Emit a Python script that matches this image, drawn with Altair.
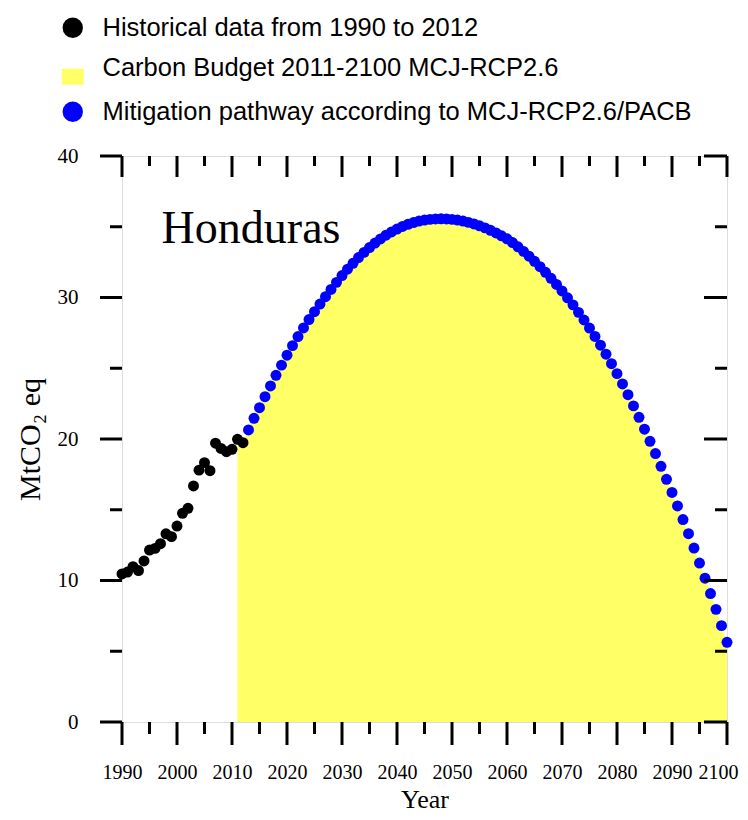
import altair as alt
import pandas as pd

# ---------------- data ----------------
hist_years = list(range(1990, 2013))
hist_values = [10.46, 10.60, 10.98, 10.70, 11.38, 12.15, 12.27, 12.60, 13.30, 13.10,
               13.85, 14.75, 15.10, 16.68, 17.80, 18.33, 17.76, 19.70, 19.33, 19.10,
               19.27, 19.98, 19.74]

path_years = list(range(2013, 2101))
path_values = [20.64, 21.46, 22.21, 22.99, 23.75, 24.50, 25.22, 25.92, 26.60, 27.24,
               27.85, 28.44, 29.00, 29.54, 30.06, 30.57, 31.07, 31.55, 32.00, 32.42,
               32.82, 33.19, 33.53, 33.85, 34.14, 34.40, 34.63, 34.84, 35.02, 35.17,
               35.30, 35.40, 35.47, 35.52, 35.55, 35.56, 35.55, 35.52, 35.47, 35.40,
               35.31, 35.20, 35.07, 34.92, 34.75, 34.56, 34.36, 34.15, 33.88, 33.58,
               33.26, 32.92, 32.56, 32.18, 31.78, 31.36, 30.92, 30.46, 29.98, 29.48,
               28.95, 28.41, 27.84, 27.25, 26.63, 25.99, 25.32, 24.62, 23.89, 23.13,
               22.34, 21.53, 20.69, 19.84, 18.97, 18.07, 17.15, 16.22, 15.27, 14.31,
               13.31, 12.29, 11.23, 10.16, 9.08, 7.96, 6.81, 5.63]

# carbon budget area: 2011-2012 from historical data, then the pathway
budget_years = [2011, 2012] + path_years
budget_values = [19.98, 19.74] + path_values

legend_labels = ["Historical data from 1990 to 2012",
                 "Carbon Budget 2011-2100 MCJ-RCP2.6",
                 "Mitigation pathway according to MCJ-RCP2.6/PACB"]
legend_colors = ["#000000", "#FFFF66", "#0000FF"]
legend_shapes = ["circle", "M-1.08,0.05L1.08,0.05L1.08,1.62L-1.08,1.62Z", "circle"]

x_major = list(range(1990, 2101, 10))
x_minor = list(range(1995, 2100, 10))
y_major = [0, 10, 20, 30, 40]
y_minor = [5, 15, 25, 35]

country = "Honduras"

# ---------------- tables ----------------
hist_df = pd.DataFrame({"year": hist_years, "value": hist_values})
path_df = pd.DataFrame({"year": path_years, "value": path_values})
budget_df = pd.DataFrame({"year": budget_years, "value": budget_values})
legend_df = pd.DataFrame({"series": legend_labels})
xmaj_df = pd.DataFrame({"t": x_major})
xmin_df = pd.DataFrame({"t": x_minor})
ymaj_df = pd.DataFrame({"t": y_major})
ymin_df = pd.DataFrame({"t": y_minor})

SERIF = "Liberation Serif"
SANS = "Liberation Sans"

xscale = alt.Scale(domain=[1990, 2100], nice=False, zero=False)
yscale = alt.Scale(domain=[0, 40], nice=False)

x_axis = alt.Axis(values=x_major, format="d", ticks=False, domain=False, grid=False,
                  labelOverlap=False, labelBound=False, labelFlush=False,
                  labelOffset={"condition": {"test": "datum.value == 2100", "value": -9},
                               "value": 0},
                  labelFont=SERIF, labelFontSize=20, labelColor="black", labelPadding=40,
                  title="Year", titleFont=SERIF, titleFontSize=26, titleFontWeight="normal",
                  titleColor="black", titleY=85, titleBaseline="alphabetic")
y_axis = alt.Axis(values=y_major, format="d", ticks=False, domain=False, grid=False,
                  labelOverlap=False, labelBound=False, labelFlush=False,
                  labelFont=SERIF, labelFontSize=21, labelColor="black", labelPadding=44,
                  title="MtCO₂ eq", titleFont=SERIF, titleFontSize=30, titleFontWeight="normal",
                  titleColor="black", titlePadding=12)

area = alt.Chart(budget_df).mark_area(color="#FFFF66").encode(
    x=alt.X("year:Q", scale=xscale, axis=x_axis),
    y=alt.Y("value:Q", scale=yscale, axis=y_axis),
)

blue = alt.Chart(path_df).mark_circle(color="#0000FF", size=120, opacity=1).encode(
    x=alt.X("year:Q", scale=xscale),
    y=alt.Y("value:Q", scale=yscale),
)

black = alt.Chart(hist_df).mark_circle(color="#000000", size=120, opacity=1).encode(
    x=alt.X("year:Q", scale=xscale),
    y=alt.Y("value:Q", scale=yscale),
)

leg = alt.Legend(title=None, orient="none", legendX=-62, legendY=-141,
                 labelFont=SANS, labelFontSize=25.5, labelColor="black", labelLimit=900,
                 labelOffset=17, rowPadding=13.5, symbolSize=415, padding=0,
                 symbolStrokeWidth=0)
legend_layer = alt.Chart(legend_df).mark_point(filled=True, opacity=1).encode(
    color=alt.Color("series:N", scale=alt.Scale(domain=legend_labels, range=legend_colors),
                    legend=leg, sort=legend_labels),
    shape=alt.Shape("series:N", scale=alt.Scale(domain=legend_labels, range=legend_shapes),
                    legend=leg, sort=legend_labels),
).transform_filter("false")

label = alt.Chart(pd.DataFrame({"name": [country]})).mark_text(
    font=SERIF, fontSize=46, align="left", baseline="alphabetic", color="black"
).encode(x=alt.datum(1997.2), y=alt.datum(33.85), text="name:N")

def ticks_x(df, ypos, size, offset):
    return alt.Chart(df).mark_tick(orient="vertical", size=size, thickness=3,
                                   color="black", yOffset=offset, opacity=1).encode(
        x=alt.X("t:Q", scale=xscale), y=alt.datum(ypos))

def ticks_y(df, xpos, size, offset):
    return alt.Chart(df).mark_tick(orient="horizontal", size=size, thickness=3,
                                   color="black", xOffset=offset, opacity=1).encode(
        y=alt.Y("t:Q", scale=yscale), x=alt.datum(xpos))

tick_layers = [
    ticks_x(xmaj_df, 0, 23, 11.5), ticks_x(xmin_df, 0, 12, 6),        # bottom, outward
    ticks_x(xmaj_df, 40, 21, 10.5), ticks_x(xmin_df, 40, 10, 5),      # top, inward
    ticks_y(ymaj_df, 1990, 22, -11), ticks_y(ymin_df, 1990, 12, -6),  # left, outward
    ticks_y(ymaj_df, 2100, 23, -11.5), ticks_y(ymin_df, 2100, 12, -6),  # right, inward
]

chart = alt.layer(area, blue, black, label, legend_layer, *tick_layers).properties(
    width=605, height=566,
    autosize=alt.AutoSizeParams(type="none"),
    padding={"left": 114, "top": 148, "right": 13, "bottom": 90},
).configure_view(stroke="black", strokeWidth=3).configure(background="white")

chart.save("out.html", embed_options={"renderer": "svg", "actions": False})
